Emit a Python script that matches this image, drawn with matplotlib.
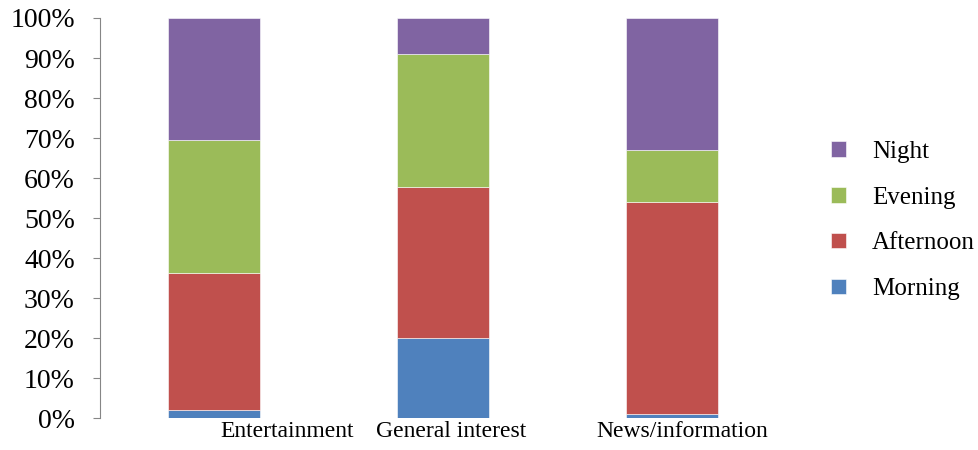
import numpy as np
import matplotlib
matplotlib.use("Agg")
import matplotlib.pyplot as plt
from matplotlib.transforms import ScaledTranslation

# data (percent of each genre)
categories = ["Entertainment", "General interest", "News/information"]
series_names = ["Morning", "Afternoon", "Evening", "Night"]
morning = [2.0, 20.0, 1.0]
afternoon = [34.25, 37.75, 53.0]
evening = [33.25, 33.25, 13.0]
night = [30.5, 9.0, 33.0]
colors = ["#4F81BD", "#C0504D", "#9BBB59", "#8064A2"]

plt.rcParams['font.family'] = ['Liberation Serif', 'DejaVu Serif']

fig = plt.figure(figsize=(9.79, 4.5), dpi=100)
ax = fig.add_axes([0.102, 0.071, 0.701, 0.889])

x = np.arange(len(categories))
bottom = np.zeros(len(categories))
handles = []
for name, vals, c in zip(series_names, [morning, afternoon, evening, night], colors):
    b = ax.bar(x, vals, width=0.4, bottom=bottom, color=c, label=name,
               edgecolor="white", linewidth=0.4)
    handles.append(b)
    bottom += np.array(vals)

ax.set_xlim(-0.5, 2.5)
ax.set_ylim(0, 100)
ax.set_yticks(np.arange(0, 101, 10))
ax.set_yticklabels([f"{v}%" for v in range(0, 101, 10)], fontsize=20)
ax.set_xticks(x)
ax.set_xticklabels(categories, fontsize=17)
ax.tick_params(axis="x", length=0, pad=2)
ax.tick_params(axis="y", length=5, color="#868686", pad=13)

# category labels sit right of the bar centres in the original
shifts = [73, 8, 10]
for lab, s in zip(ax.get_xticklabels(), shifts):
    lab.set_transform(lab.get_transform() + ScaledTranslation(s / 100, 0, fig.dpi_scale_trans))

for sp in ["top", "right", "bottom"]:
    ax.spines[sp].set_visible(False)
ax.spines["left"].set_color("#868686")

leg = fig.legend(handles[::-1], series_names[::-1], loc="center left",
                 bbox_to_anchor=(0.826, 0.51), frameon=False, fontsize=18,
                 handlelength=0.58, handleheight=0.58, labelspacing=0.95,
                 handletextpad=1.05)

fig.savefig("out.png", dpi=100)
